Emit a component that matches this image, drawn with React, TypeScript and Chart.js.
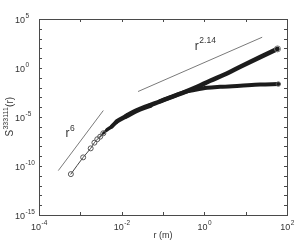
import React, { useEffect, useRef } from "react";
import { Chart, registerables } from "chart.js";

Chart.register(...registerables);

// shared trunk of the structure function curves (r in m, S in arbitrary units)
const trunkR = [5.9e-4, 1.17e-3, 1.78e-3, 2.19e-3, 2.57e-3, 3.02e-3, 3.6e-3, 4.4e-3, 5.75e-3, 7.6e-3, 1.32e-2, 2.34e-2, 4.9e-2, 8.5e-2, 0.176, 0.343];
const trunkS = [1.48e-11, 7.6e-10, 6.3e-9, 2.4e-8, 5.4e-8, 9.8e-8, 2.2e-7, 4.8e-7, 1.05e-6, 3.4e-6, 1.29e-5, 4.6e-5, 1.55e-4, 4.0e-4, 1.29e-3, 3.7e-3];

// upper branch
const upperR = [0.67, 1.38, 3.19, 7.4, 22.4, 58.9];
const upperS = [1.2e-2, 5.0e-2, 0.23, 1.35, 12.9, 89];

// lower branch (saturating)
const lowerR = [0.6, 1.17, 2.42, 7.4, 22.4, 61.7];
const lowerS = [6.0e-3, 9.5e-3, 1.2e-2, 1.55e-2, 2.04e-2, 2.3e-2];

// reference slopes
const r6R = [2.93e-4, 3.6e-3];
const r6S = [3.4e-11, 4.6e-5];
const r214R = [2.49e-2, 25.1];
const r214S = [3.98e-3, 1380];

// annotation labels: [base, exponent, r, S]
const slopeLabels: [string, string, number, number][] = [
  ["r", "6", 4.4e-4, 9.1e-8],
  ["r", "2.14", 0.59, 75],
];

const xTickVals = [1e-4, 1e-2, 1, 1e2];
const xTickExps = ["-4", "-2", "0", "2"];
const yTickVals = [1e5, 1, 1e-5, 1e-10, 1e-15];
const yTickExps = ["5", "0", "-5", "-10", "-15"];
const xDecades = [1e-4, 1e-3, 1e-2, 1e-1, 1, 1e1, 1e2];
const yDecades = [1e5, 1e4, 1e3, 1e2, 1e1, 1, 1e-1, 1e-2, 1e-3, 1e-4, 1e-5, 1e-6, 1e-7, 1e-8, 1e-9, 1e-10, 1e-11, 1e-12, 1e-13, 1e-14, 1e-15];

const xTitle = "r (m)";
const yTitleBase = "S";
const yTitleSup = "333111";
const yTitleTail = "(r)";

const FONT = '"Liberation Sans", Arial, Helvetica, sans-serif';

const pts = (rs: number[], ss: number[]) => rs.map((r, i) => ({ x: r, y: ss[i] }));

const SPARSE = 7;

const framePlugin = {
  id: "frame",
  afterDraw(chart: any) {
    const ctx: CanvasRenderingContext2D = chart.ctx;
    const xs = chart.scales.x;
    const ys = chart.scales.y;
    const { left, right, top, bottom } = chart.chartArea;
    ctx.save();
    ctx.strokeStyle = "#4a4a4a";
    ctx.lineWidth = 1;
    ctx.strokeRect(Math.round(left) + 0.5, Math.round(top) + 0.5, Math.round(right - left), Math.round(bottom - top));
    ctx.beginPath();
    const tl = 3;
    for (const v of xDecades) {
      const px = Math.round(xs.getPixelForValue(v)) + 0.5;
      ctx.moveTo(px, bottom);
      ctx.lineTo(px, bottom - tl);
      ctx.moveTo(px, top);
      ctx.lineTo(px, top + tl);
    }
    for (const v of yDecades) {
      const py = Math.round(ys.getPixelForValue(v)) + 0.5;
      ctx.moveTo(left, py);
      ctx.lineTo(left + tl, py);
      ctx.moveTo(right, py);
      ctx.lineTo(right - tl, py);
    }
    ctx.stroke();

    // tick labels
    ctx.fillStyle = "#333";
    ctx.textBaseline = "alphabetic";
    const baseFont = `9px ${FONT}`;
    const supFont = `6.5px ${FONT}`;
    xTickVals.forEach((v, i) => {
      const px = xs.getPixelForValue(v);
      ctx.font = baseFont;
      const wb = ctx.measureText("10").width;
      ctx.font = supFont;
      const we = ctx.measureText(xTickExps[i]).width;
      const x0 = px - (wb + we) / 2;
      ctx.font = baseFont;
      ctx.textAlign = "left";
      ctx.fillText("10", x0, bottom + 15);
      ctx.font = supFont;
      ctx.fillText(xTickExps[i], x0 + wb + 0.5, bottom + 10);
    });
    yTickVals.forEach((v, i) => {
      const py = ys.getPixelForValue(v);
      ctx.font = baseFont;
      ctx.textAlign = "left";
      const wb = ctx.measureText("10").width;
      ctx.fillText("10", 15, py + 3.5);
      ctx.font = supFont;
      ctx.fillText(yTickExps[i], 15 + wb + 0.5, py - 1);
    });

    // x title
    ctx.font = baseFont;
    ctx.textAlign = "center";
    ctx.fillText(xTitle, (left + right) / 2, bottom + 23);

    // y title (rotated)
    const tFont = `10px ${FONT}`;
    const tSup = `7px ${FONT}`;
    ctx.save();
    ctx.translate(12.5, (top + bottom) / 2);
    ctx.rotate(-Math.PI / 2);
    ctx.font = tFont;
    const w1 = ctx.measureText(yTitleBase).width;
    const w3 = ctx.measureText(yTitleTail).width;
    ctx.font = tSup;
    const w2 = ctx.measureText(yTitleSup).width;
    const x0 = -(w1 + w2 + w3) / 2;
    ctx.textAlign = "left";
    ctx.font = tFont;
    ctx.fillText(yTitleBase, x0, 0);
    ctx.font = tSup;
    ctx.fillText(yTitleSup, x0 + w1 + 0.3, -4.5);
    ctx.font = tFont;
    ctx.fillText(yTitleTail, x0 + w1 + w2 + 0.6, 0);
    ctx.restore();

    // slope labels
    for (const [b, e, r, s] of slopeLabels) {
      const px = xs.getPixelForValue(r);
      const py = ys.getPixelForValue(s);
      ctx.font = `12px ${FONT}`;
      ctx.textAlign = "left";
      const wb = ctx.measureText(b).width;
      ctx.fillText(b, px, py);
      ctx.font = `8.5px ${FONT}`;
      ctx.fillText(e, px + wb + 0.5, py - 6.5);
    }
    ctx.restore();
  },
};

export default function App() {
  const ref = useRef<HTMLCanvasElement>(null);
  useEffect(() => {
    document.body.style.margin = "0";
    const upperData = pts([...trunkR, ...upperR], [...trunkS, ...upperS]);
    const nUp = upperData.length;
    const lowerData = pts([...trunkR.slice(13), ...lowerR], [...trunkS.slice(13), ...lowerS]);
    const upWidths = [1, 1, 1, 1, 1, 1.5, 2.5, 3.5, 4, 4.5, 5, 5];
    const chart = new Chart(ref.current!, {
      type: "line",
      data: {
        datasets: [
          {
            data: pts(r6R, r6S),
            borderColor: "#7a7a7a",
            borderWidth: 1,
            pointRadius: 0,
          },
          {
            data: pts(r214R, r214S),
            borderColor: "#7a7a7a",
            borderWidth: 1,
            pointRadius: 0,
          },
          {
            data: lowerData,
            borderColor: "#1c1c1c",
            borderWidth: 4,
            borderJoinStyle: "round",
            borderCapStyle: "round",
            cubicInterpolationMode: "monotone",
            pointRadius: lowerData.map((_, i) => (i === lowerData.length - 1 ? 2.2 : 0)),
            pointBorderColor: "#555",
            pointBackgroundColor: "rgba(0,0,0,0)",
            pointBorderWidth: 1,
          },
          {
            data: upperData,
            borderColor: "#1c1c1c",
            borderWidth: 4.5,
            borderJoinStyle: "round",
            borderCapStyle: "round",
            cubicInterpolationMode: "monotone",
            segment: {
              borderWidth: (c: any) => (c.p0DataIndex < upWidths.length ? upWidths[c.p0DataIndex] : 4.5),
              borderColor: (c: any) => (c.p0DataIndex < SPARSE - 1 ? "#444" : "#1c1c1c"),
            },
            pointRadius: upperData.map((_, i) => (i < SPARSE ? 2.5 : i === nUp - 1 ? 3 : 0)),
            pointBorderColor: upperData.map((_, i) => (i === nUp - 1 ? "#777" : "#555")),
            pointBackgroundColor: "rgba(0,0,0,0)",
            pointBorderWidth: 1,
          },
        ],
      },
      options: {
        responsive: false,
        animation: false,
        events: [],
        layout: { padding: { left: 39, right: 10, top: 19, bottom: 27 } },
        plugins: { legend: { display: false }, tooltip: { enabled: false } },
        scales: {
          x: { type: "logarithmic", min: 1e-4, max: 1e2, display: false },
          y: { type: "logarithmic", min: 1e-15, max: 1e5, display: false },
        },
      },
      plugins: [framePlugin],
    });
    return () => chart.destroy();
  }, []);
  return (
    <div style={{ position: "absolute", left: 0, top: 0, width: 297, height: 242, background: "#fff" }}>
      <canvas ref={ref} width={297} height={242} style={{ width: 297, height: 242 }} />
    </div>
  );
}
